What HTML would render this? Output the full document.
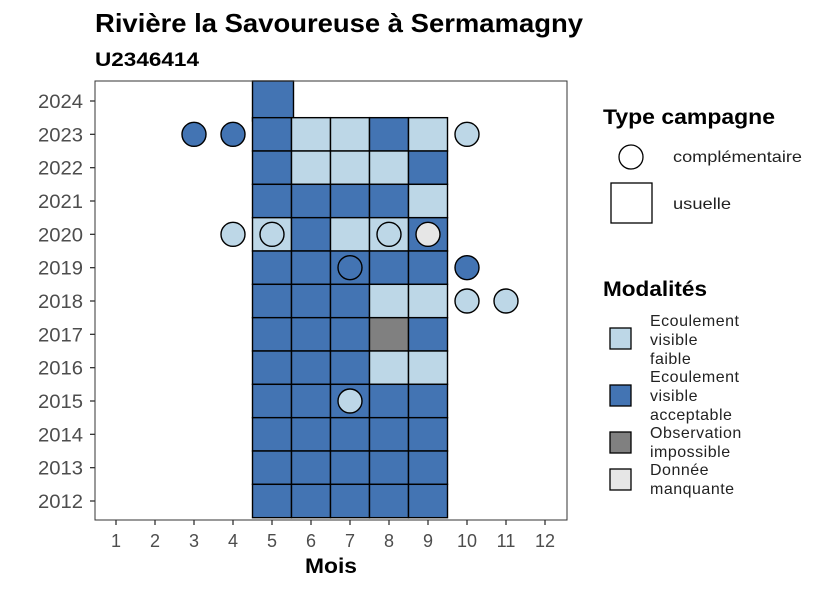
<!DOCTYPE html>
<html><head><meta charset="utf-8"><style>
body{margin:0;background:#fff;}
svg{font-family:"Liberation Sans",sans-serif;}
</style></head><body>
<svg id="chart" width="826" height="590" xmlns="http://www.w3.org/2000/svg">
<text x="95" y="32" font-size="26" font-weight="bold" fill="#000" textLength="488" lengthAdjust="spacingAndGlyphs">Rivière la Savoureuse à Sermamagny</text>
<text x="95" y="66" font-size="19" font-weight="bold" fill="#000" textLength="104" lengthAdjust="spacingAndGlyphs">U2346414</text>
<g id="plot"></g>
<rect x="95" y="81" width="472" height="439" fill="none" stroke="#333" stroke-width="1"/>
<text x="305" y="573" font-size="21" font-weight="bold" textLength="52" lengthAdjust="spacingAndGlyphs">Mois</text>
<text x="603" y="124" font-size="21" font-weight="bold" textLength="172" lengthAdjust="spacingAndGlyphs">Type campagne</text>
<circle cx="631" cy="157" r="12" fill="#fff" stroke="#000" stroke-width="1.3"/>
<text x="673" y="162" font-size="16" fill="#222" textLength="129" lengthAdjust="spacingAndGlyphs">complémentaire</text>
<rect x="611" y="183" width="41" height="40" fill="#fff" stroke="#000" stroke-width="1.3"/>
<text x="673" y="209" font-size="16" fill="#222" textLength="58" lengthAdjust="spacingAndGlyphs">usuelle</text>
<text x="603" y="296" font-size="21" font-weight="bold" textLength="104" lengthAdjust="spacingAndGlyphs">Modalités</text>
<g font-size="16" fill="#222" letter-spacing="0.5">
<rect x="610" y="328" width="21" height="21" fill="#BDD7E7" stroke="#000" stroke-width="1.3"/>
<text x="650" y="326"><tspan x="650">Ecoulement</tspan><tspan x="650" dy="19">visible</tspan><tspan x="650" dy="19">faible</tspan></text>
<rect x="610" y="385" width="21" height="21" fill="#4374B3" stroke="#000" stroke-width="1.3"/>
<text x="650" y="382"><tspan x="650">Ecoulement</tspan><tspan x="650" dy="19">visible</tspan><tspan x="650" dy="19">acceptable</tspan></text>
<rect x="610" y="432" width="21" height="21" fill="#808080" stroke="#000" stroke-width="1.3"/>
<text x="650" y="438"><tspan x="650">Observation</tspan><tspan x="650" dy="19">impossible</tspan></text>
<rect x="610" y="469" width="21" height="21" fill="#E6E6E6" stroke="#000" stroke-width="1.3"/>
<text x="650" y="475"><tspan x="650">Donnée</tspan><tspan x="650" dy="19">manquante</tspan></text>
</g>
</svg>
<script>
const months=[1,2,3,4,5,6,7,8,9,10,11,12];
const years=[2012,2013,2014,2015,2016,2017,2018,2019,2020,2021,2022,2023,2024];
// usual campaign tiles: A=acceptable F=faible O=impossible M=manquante
const tileYears=[2023,2023,2023,2023,2023,2022,2022,2022,2022,2022,2021,2021,2021,2021,2021,2020,2020,2020,2020,2020,2019,2019,2019,2019,2019,2018,2018,2018,2018,2018,2017,2017,2017,2017,2017,2016,2016,2016,2016,2016,2015,2015,2015,2015,2015,2014,2014,2014,2014,2014,2013,2013,2013,2013,2013,2012,2012,2012,2012,2012];
const tileMonths=[5,6,7,8,9,5,6,7,8,9,5,6,7,8,9,5,6,7,8,9,5,6,7,8,9,5,6,7,8,9,5,6,7,8,9,5,6,7,8,9,5,6,7,8,9,5,6,7,8,9,5,6,7,8,9,5,6,7,8,9];
const tileCodes=["A","F","F","A","F","A","F","F","F","A","A","A","A","A","F","F","A","F","F","A","A","A","A","A","A","A","A","A","F","F","A","A","A","O","A","A","A","A","F","F","A","A","A","A","A","A","A","A","A","A","A","A","A","A","A","A","A","A","A","A"];
// complementary campaign circles
const circYears=[2023,2023,2023,2020,2020,2020,2020,2019,2019,2018,2018,2015];
const circMonths=[3,4,10,4,5,8,9,7,10,10,11,7];
const circCodes=["A","A","F","F","F","F","M","A","A","F","F","F"];
const colors={A:"#4374B3",F:"#BDD7E7",O:"#808080",M:"#E6E6E6"};
const NS="http://www.w3.org/2000/svg";
const x=m=>116+(m-1)*39;
const y=yr=>501-(yr-2012)*(400/12);
const g=document.getElementById('plot');
function mk(t,a){const e=document.createElementNS(NS,t);for(const k in a)e.setAttribute(k,a[k]);g.appendChild(e);return e;}
let t24=mk('rect',{x:x(5)-19.5,y:81,width:41,height:40,fill:colors.A,stroke:"#000","stroke-width":1.4});


for(let i=0;i<tileYears.length;i++){
 const r=mk('rect',{x:x(tileMonths[i])-19.5,y:y(tileYears[i])-16.67,width:39,height:33.33,fill:colors[tileCodes[i]],stroke:"#000","stroke-width":1.4});
 
 
}
for(let i=0;i<circYears.length;i++){
 const c=mk('circle',{cx:x(circMonths[i]),cy:y(circYears[i]),r:12,fill:colors[circCodes[i]],stroke:"#000","stroke-width":1.4});
 
 
}
months.forEach(m=>{
 mk('line',{x1:x(m),x2:x(m),y1:520,y2:525,stroke:"#333","stroke-width":1.3});
 const t=mk('text',{x:x(m),y:547,"font-size":18,fill:"#4d4d4d","text-anchor":"middle"});
 t.textContent=m;
 
 
});
years.forEach(yr=>{
 mk('line',{x1:90,x2:95,y1:y(yr),y2:y(yr),stroke:"#333","stroke-width":1.3});
 const t=mk('text',{x:38,y:y(yr)+7,"font-size":19,fill:"#4d4d4d",textLength:45,lengthAdjust:"spacingAndGlyphs"});
 t.textContent=yr;
 
 
});
</script>
</body></html>
